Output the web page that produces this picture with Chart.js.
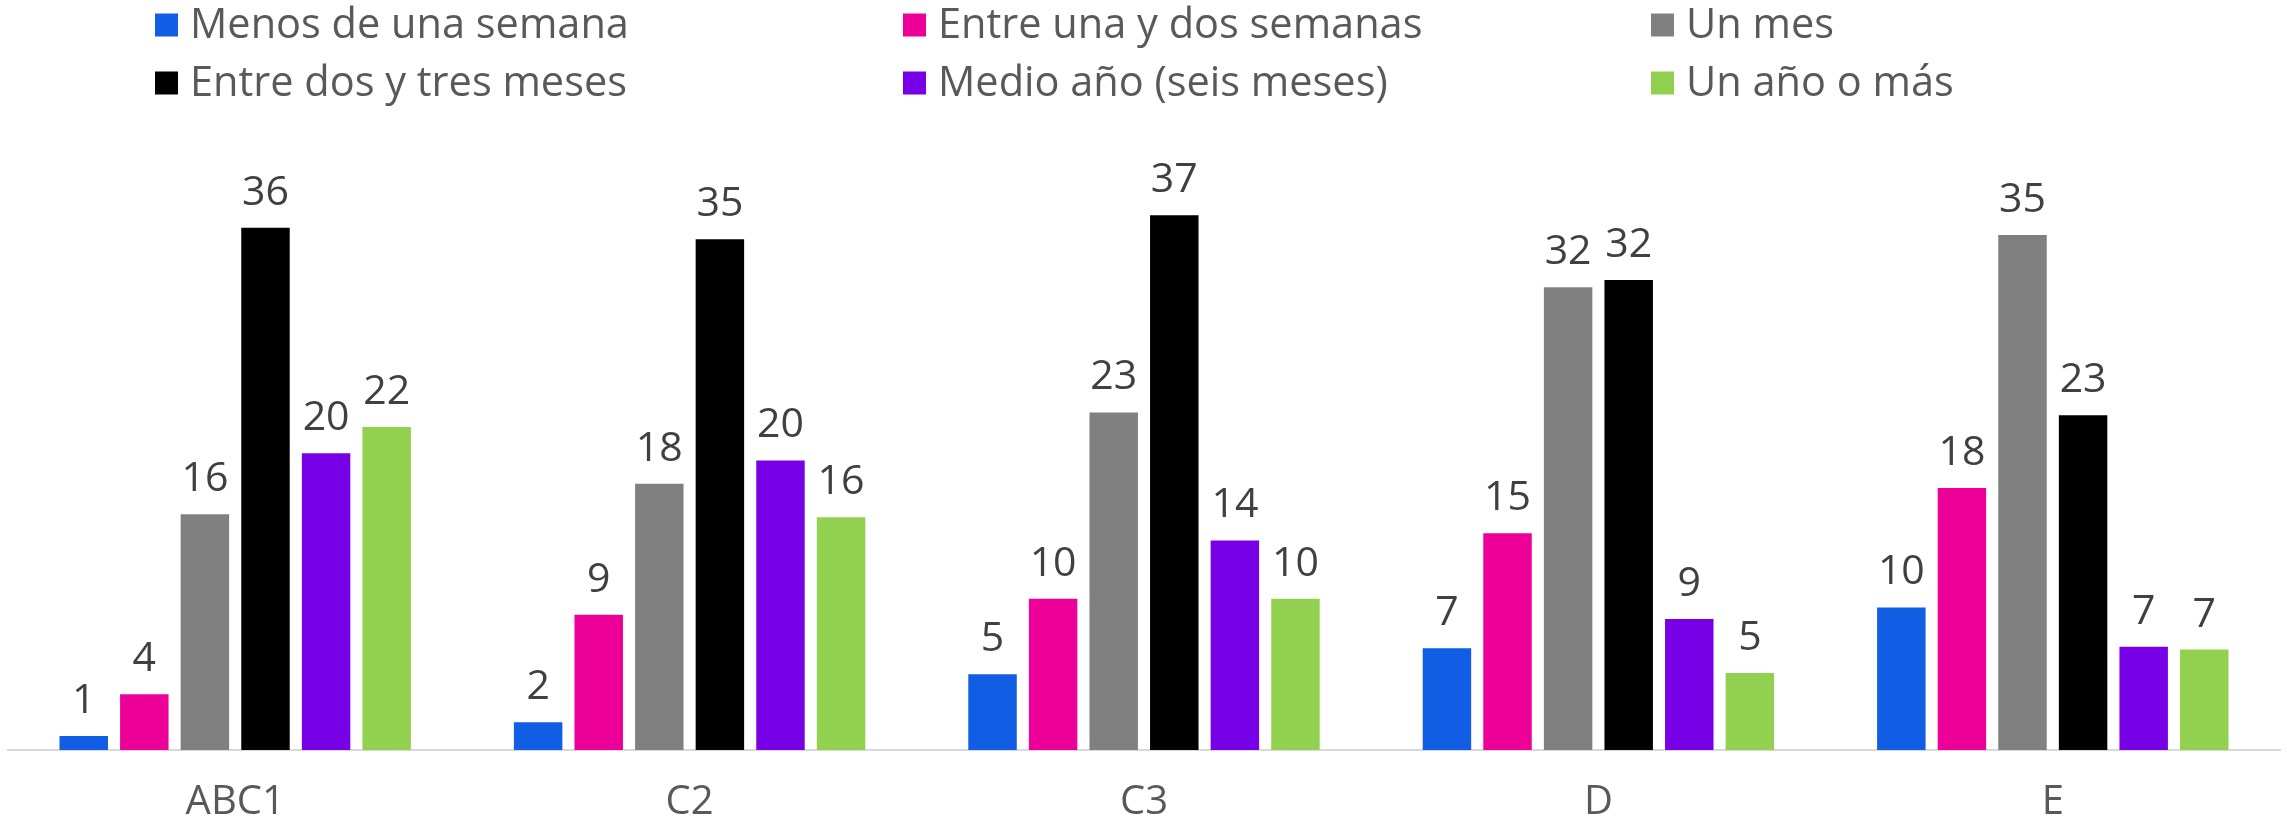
<!DOCTYPE html>
<html>
<head>
<meta charset="utf-8">
<script src="https://cdn.jsdelivr.net/npm/chart.js@4.4.1/dist/chart.umd.min.js"></script>
<style>
  html, body { margin: 0; padding: 0; background: #fff; }
  #wrap { width: 2287px; height: 821px; position: relative; }
</style>
</head>
<body>
<div id="wrap"><canvas id="myChart"></canvas></div>
<script>
const categories = ['ABC1', 'C2', 'C3', 'D', 'E'];

const seriesNames = ['Menos de una semana', 'Entre una y dos semanas', 'Un mes',
                     'Entre dos y tres meses', 'Medio año (seis meses)', 'Un año o más'];
const seriesColors = ['#115de3', '#ec0098', '#808080', '#000000', '#7800e6', '#92d050'];

const menosSemana   = [0.96, 1.9, 5.2, 7.0, 9.8];
const unaDosSemanas = [3.83, 9.3, 10.4, 14.9, 18.0];
const unMes         = [16.2, 18.3, 23.2, 31.8, 35.4];
const dosTresMeses  = [35.9, 35.1, 36.75, 32.3, 23.0];
const medioAnio     = [20.4, 19.9, 14.4, 9.0, 7.1];
const unAnioOMas    = [22.2, 16.0, 10.4, 5.3, 6.9];

const seriesValues = [menosSemana, unaDosSemanas, unMes, dosTresMeses, medioAnio, unAnioOMas];

const FONT = "'Open Sans', sans-serif";

// leyenda en 3 columnas fijas
const gridLegend = {
  id: 'gridLegend',
  afterDraw(chart) {
    const ctx = chart.ctx;
    ctx.save();
    ctx.font = '41.5px ' + FONT;
    ctx.textBaseline = 'middle';
    ctx.textAlign = 'left';
    seriesNames.forEach((name, i) => {
      const col = i % 3, row = Math.floor(i / 3);
      const x = 155 + col * 748;
      const y = 25 + row * 58;
      ctx.fillStyle = seriesColors[i];
      ctx.fillRect(x, y - 11.5, 23, 23);
      ctx.fillStyle = '#595959';
      ctx.fillText(name, x + 35, y + 1);
    });
    ctx.restore();
  }
};

// etiquetas de valor sobre cada barra
const barLabels = {
  id: 'barLabels',
  afterDatasetsDraw(chart) {
    const ctx = chart.ctx;
    ctx.save();
    ctx.font = '41px ' + FONT;
    ctx.fillStyle = '#404040';
    ctx.textAlign = 'center';
    ctx.textBaseline = 'alphabetic';
    chart.data.datasets.forEach((ds, i) => {
      chart.getDatasetMeta(i).data.forEach((bar, j) => {
        ctx.fillText(Math.round(ds.data[j]), bar.x, bar.y - 23);
      });
    });
    ctx.restore();
  }
};

new Chart(document.getElementById('myChart'), {
  type: 'bar',
  data: {
    labels: categories,
    datasets: seriesNames.map((name, i) => ({
      label: name,
      data: seriesValues[i],
      backgroundColor: seriesColors[i],
      borderWidth: 0,
      categoryPercentage: 0.8,
      barPercentage: 0.8
    }))
  },
  options: {
    responsive: true,
    maintainAspectRatio: false,
    animation: false,
    layout: {
      padding: { top: 168, left: 8, right: 7, bottom: 0 }
    },
    scales: {
      x: {
        grid: { display: false, drawTicks: false, tickLength: 0 },
        border: { display: true, color: '#d9d9d9', width: 2 },
        ticks: {
          color: '#595959',
          padding: 29,
          font: { family: FONT, size: 40 }
        },
        afterFit(scale) { scale.height = 71; }
      },
      y: {
        display: false,
        min: 0,
        max: 40
      }
    },
    plugins: {
      legend: { display: false },
      tooltip: { enabled: false }
    }
  },
  plugins: [gridLegend, barLabels]
});
</script>
</body>
</html>
